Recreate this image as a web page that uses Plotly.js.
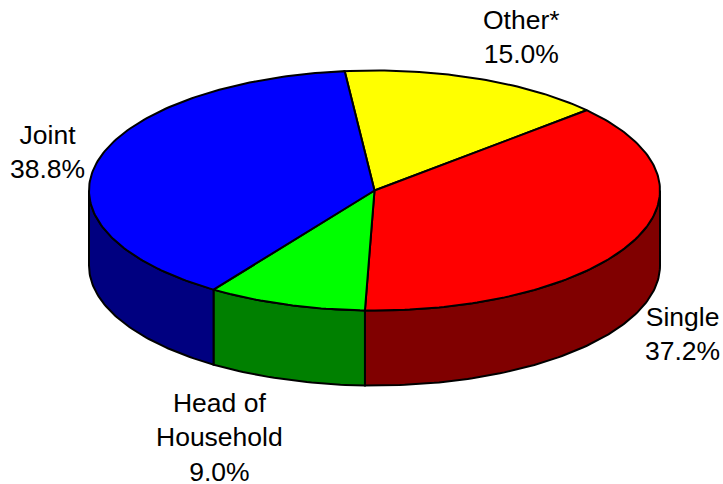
<!DOCTYPE html>
<html><head><meta charset="utf-8">
<script src="https://cdn.plot.ly/plotly-3.0.1.min.js"></script>
<style>html,body{margin:0;padding:0;background:#fff}#c{width:723px;height:484px}</style>
</head><body><div id="c"></div>
<script>
const categories = ["Other*", "Single", "Head of<br>Household", "Joint"];
const shares = [15.0, 37.2, 9.0, 38.8];
const topColors = ["#ffff00", "#ff0000", "#00ff00", "#0000ff"];
const sideColors = ["#808000", "#800000", "#008000", "#000080"];
const labelAnchors = [[521, 36.5], [682, 334], [219, 437.5], [47.5, 151.5]];

const cx = 374.5, cy = 190.5, rx = 285.5, ry = 120, depth = 75, startDeg = -6;
const pt = (deg, dy) => [cx + rx * Math.sin(deg * Math.PI / 180), cy - ry * Math.cos(deg * Math.PI / 180) + dy];
function arc(a, b, dy) {
  const out = [], n = Math.max(2, Math.ceil(Math.abs(b - a)));
  for (let i = 0; i <= n; i++) out.push(pt(a + (b - a) * i / n, dy));
  return out;
}
function poly(points, color) {
  return {type: "scatter", mode: "lines", x: points.map(p => p[0]), y: points.map(p => p[1]),
    fill: "toself", fillcolor: color, line: {color: "#000", width: 2}, hoverinfo: "skip", showlegend: false};
}
const total = shares.reduce((a, b) => a + b, 0);
let a = startDeg;
const sides = [], tops = [];
shares.forEach((s, i) => {
  const b = a + s / total * 360;
  const lo = Math.max(a, 90), hi = Math.min(b, 270);
  if (hi > lo) sides.push(poly([...arc(lo, hi, 0), ...arc(hi, lo, depth), pt(lo, 0)], sideColors[i]));
  tops.push(poly([[cx, cy], ...arc(a, b, 0), [cx, cy]], topColors[i]));
  a = b;
});
const labels = categories.map((c, i) => ({
  x: labelAnchors[i][0], y: labelAnchors[i][1], xref: "x", yref: "y",
  text: c + "<br>" + shares[i].toFixed(1) + "%", showarrow: false,
  font: {family: "Liberation Sans, Arial, sans-serif", size: 26.5, color: "#000"}, align: "center"
}));
Plotly.newPlot("c", [...sides, ...tops], {
  width: 723, height: 484, margin: {l: 0, r: 0, t: 0, b: 0},
  paper_bgcolor: "#fff", plot_bgcolor: "#fff", showlegend: false,
  xaxis: {range: [0, 723], visible: false, fixedrange: true},
  yaxis: {range: [484, 0], visible: false, fixedrange: true},
  annotations: labels
}, {displayModeBar: false, staticPlot: true});
</script></body></html>
